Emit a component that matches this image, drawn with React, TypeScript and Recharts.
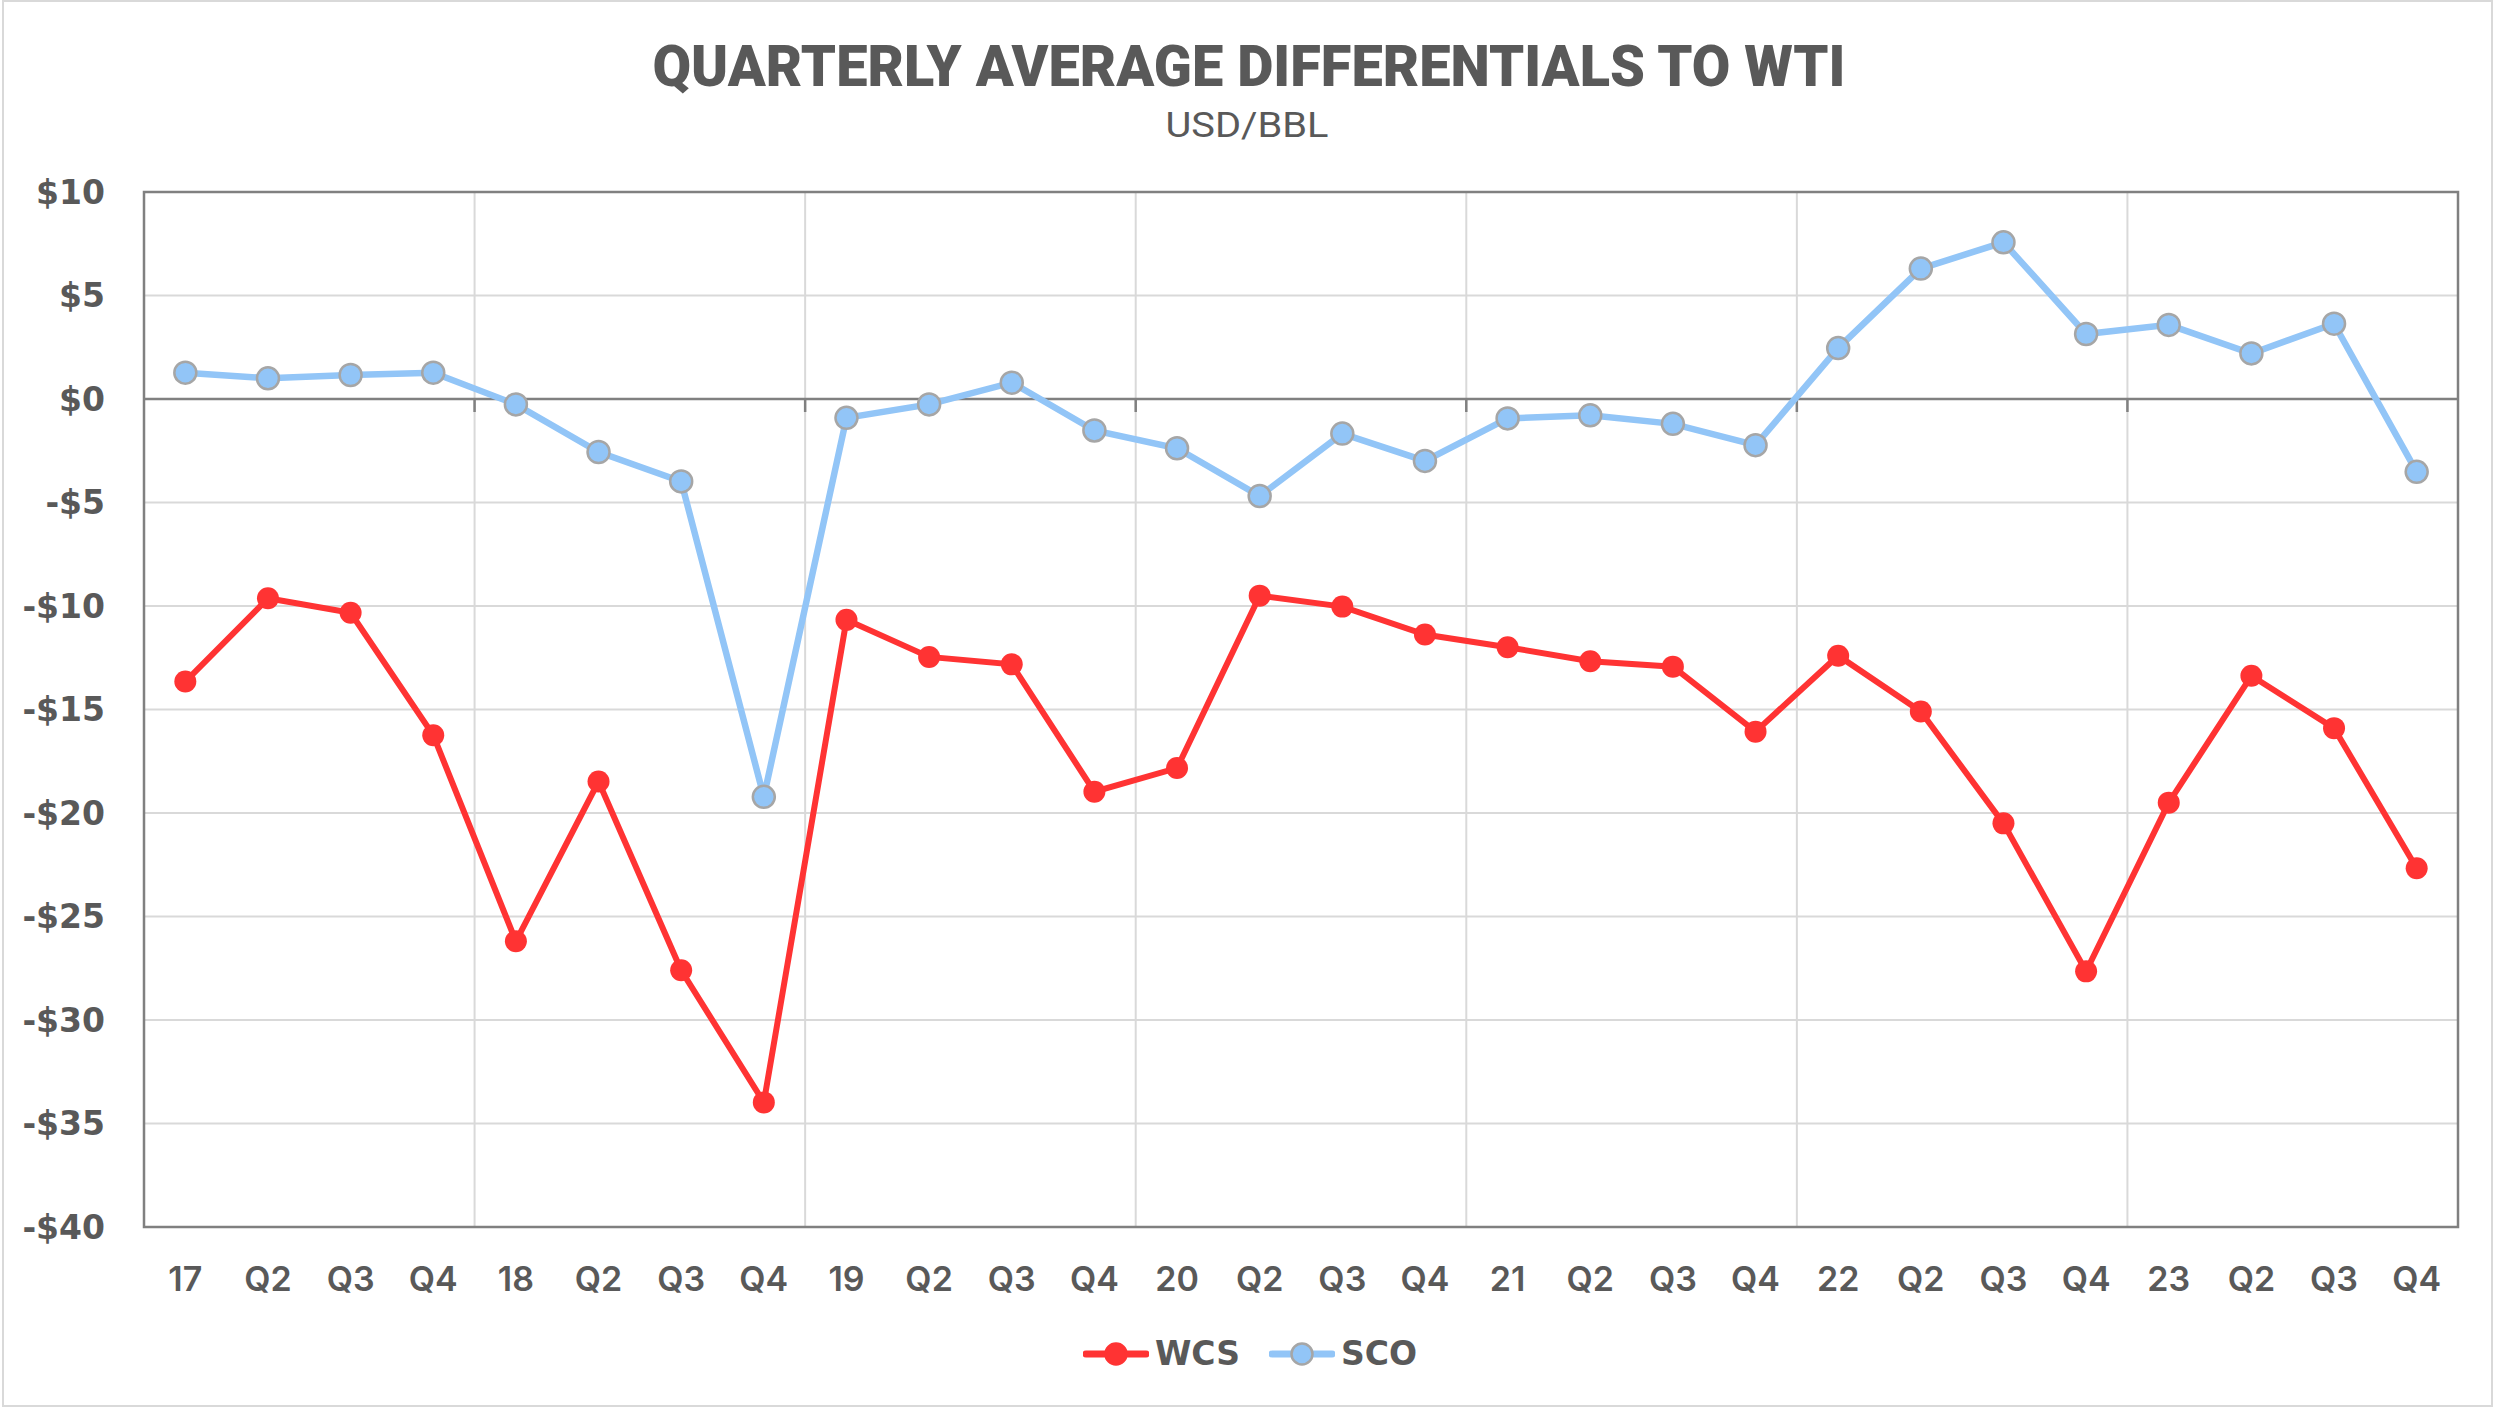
import React from "react";
import {
  CartesianGrid,
  Legend,
  Line,
  LineChart,
  ReferenceArea,
  ReferenceLine,
  XAxis,
  YAxis,
} from "recharts";

const quarters = [
  "17", "Q2", "Q3", "Q4",
  "18", "Q2", "Q3", "Q4",
  "19", "Q2", "Q3", "Q4",
  "20", "Q2", "Q3", "Q4",
  "21", "Q2", "Q3", "Q4",
  "22", "Q2", "Q3", "Q4",
  "23", "Q2", "Q3", "Q4",
];

const wcs = [
  -13.65, -9.63, -10.33, -16.24,
  -26.2, -18.48, -27.6, -33.98,
  -10.67, -12.46, -12.82, -18.97,
  -17.83, -9.5, -10.03, -11.38,
  -11.99, -12.67, -12.93, -16.07,
  -12.4, -15.1, -20.5, -27.65,
  -19.5, -13.37, -15.9, -22.67,
];

const sco = [
  1.27, 1.0, 1.16, 1.27,
  -0.26, -2.56, -3.98, -19.22,
  -0.91, -0.26, 0.79, -1.52,
  -2.38, -4.69, -1.67, -2.99,
  -0.94, -0.79, -1.2, -2.23,
  2.46, 6.3, 7.57, 3.14,
  3.58, 2.2, 3.64, -3.52,
];

const yTicks = [-40, -35, -30, -25, -20, -15, -10, -5, 0, 5, 10];

const data = quarters.map((q, i) => ({ q, WCS: wcs[i], SCO: sco[i] }));

const RED = "#FF3333";
const BLUE = "#92C5F7";
const TEXT = "#595959";
const GRID = "#D9D9D9";
const AXIS = "#808080";

const PLOT_W = 2500 - 144 - 42;
const HALF_BAND = PLOT_W / quarters.length / 2;

const fmt = (v: number) => (v < 0 ? `-$${-v}` : `$${v}`);

// zero line with small ticks at each year boundary
const ZeroLine = (p: any) => {
  const { x1, y1, x2, y2 } = p;
  const marks = [1, 2, 3, 4, 5, 6].map((i) => x1 + ((x2 - x1) * i * 4) / quarters.length);
  return (
    <g>
      <line x1={x1} y1={y1} x2={x2} y2={y2} stroke={AXIS} strokeWidth={2.5} />
      {marks.map((x) => (
        <line key={x} x1={x} y1={y1} x2={x} y2={y1 + 13} stroke={AXIS} strokeWidth={2.5} />
      ))}
    </g>
  );
};

// plot frame; the x range is padded by half a band on each side
const Frame = (p: any) => (
  <rect
    x={p.x - HALF_BAND}
    y={p.y}
    width={p.width + 2 * HALF_BAND}
    height={p.height}
    fill="none"
    stroke={AXIS}
    strokeWidth={2.5}
  />
);

const LegendContent = () => {
  const items = [
    { name: "WCS", color: RED, stroke: RED },
    { name: "SCO", color: BLUE, stroke: "#A6A6A6" },
  ];
  return (
    <div style={{ display: "flex", justifyContent: "center", alignItems: "center", height: 33 }}>
      {items.map((it, i) => (
        <div key={it.name} style={{ display: "flex", alignItems: "center", marginLeft: i ? 29 : 0 }}>
          <svg width={66} height={26}>
            <line x1={3} y1={13} x2={63} y2={13} stroke={it.color} strokeWidth={7} strokeLinecap="round" />
            <circle cx={33} cy={13} r={10.5} fill={it.color} stroke={it.stroke} strokeWidth={2.5} />
          </svg>
          <span
            style={{
              marginLeft: 6,
              fontFamily: "DejaVu Sans",
              fontWeight: 700,
              fontSize: 33,
              color: TEXT,
              lineHeight: 1,
            }}
          >
            {it.name}
          </span>
        </div>
      ))}
    </div>
  );
};

export default function App() {
  return (
    <div
      style={{
        position: "absolute",
        left: 0,
        top: 0,
        width: 2500,
        height: 1415,
        background: "#fff",
        overflow: "hidden",
      }}
    >
      <div
        style={{
          position: "absolute",
          left: 2,
          top: 0,
          width: 2491,
          height: 1407,
          border: `2px solid ${GRID}`,
          boxSizing: "border-box",
        }}
      />
      <svg width={2500} height={160} style={{ position: "absolute", left: 0, top: 0 }}>
        <text
          x={1249}
          y={86}
          textAnchor="middle"
          textLength={1193}
          lengthAdjust="spacingAndGlyphs"
          fontFamily="Roboto"
          fontWeight={900}
          fontSize={58}
          fill={TEXT}
        >
          QUARTERLY AVERAGE DIFFERENTIALS TO WTI
        </text>
        <text
          x={1247}
          y={137}
          textAnchor="middle"
          textLength={163}
          lengthAdjust="spacingAndGlyphs"
          fontFamily="Roboto"
          fontWeight={400}
          fontSize={35}
          fill={TEXT}
        >
          USD/BBL
        </text>
      </svg>
      <div style={{ position: "absolute", left: 0, top: 0 }}>
        <LineChart
          width={2500}
          height={1415}
          data={data}
          margin={{ top: 192, right: 42, bottom: 65, left: 0 }}
        >
          <CartesianGrid
            stroke={GRID}
            strokeWidth={2}
            horizontal={true}
            vertical={true}
            verticalCoordinatesGenerator={({ offset }: any) =>
              [1, 2, 3, 4, 5, 6].map((i) => offset.left + (offset.width * i * 4) / quarters.length)
            }
          />
          <XAxis
            dataKey="q"
            interval={0}
            padding={{ left: HALF_BAND, right: HALF_BAND }}
            axisLine={false}
            tickLine={false}
            tickSize={0}
            tickMargin={40}
            height={90}
            tick={{ fill: TEXT, fontFamily: "Inter", fontWeight: 600, fontSize: 34 }}
          />
          <YAxis
            width={144}
            domain={[-40, 10]}
            ticks={yTicks}
            interval={0}
            axisLine={false}
            tickLine={false}
            tickSize={0}
            tickMargin={39}
            tickFormatter={fmt}
            tick={{ fill: TEXT, fontFamily: "DejaVu Sans", fontWeight: 700, fontSize: 33 }}
          />
          <ReferenceArea y1={-40} y2={10} shape={Frame} ifOverflow="visible" />
          <ReferenceLine y={0} shape={ZeroLine} />
          <Line
            dataKey="WCS"
            stroke={RED}
            strokeWidth={6}
            dot={{ r: 11, fill: RED, stroke: RED, strokeWidth: 0 }}
            isAnimationActive={false}
          />
          <Line
            dataKey="SCO"
            stroke={BLUE}
            strokeWidth={6.5}
            dot={{ r: 11, fill: BLUE, stroke: "#A6A6A6", strokeWidth: 2.5 }}
            isAnimationActive={false}
          />
          <Legend
            content={<LegendContent />}
            wrapperStyle={{ position: "absolute", top: 1337, left: 0, width: 2500 }}
          />
        </LineChart>
      </div>
    </div>
  );
}
